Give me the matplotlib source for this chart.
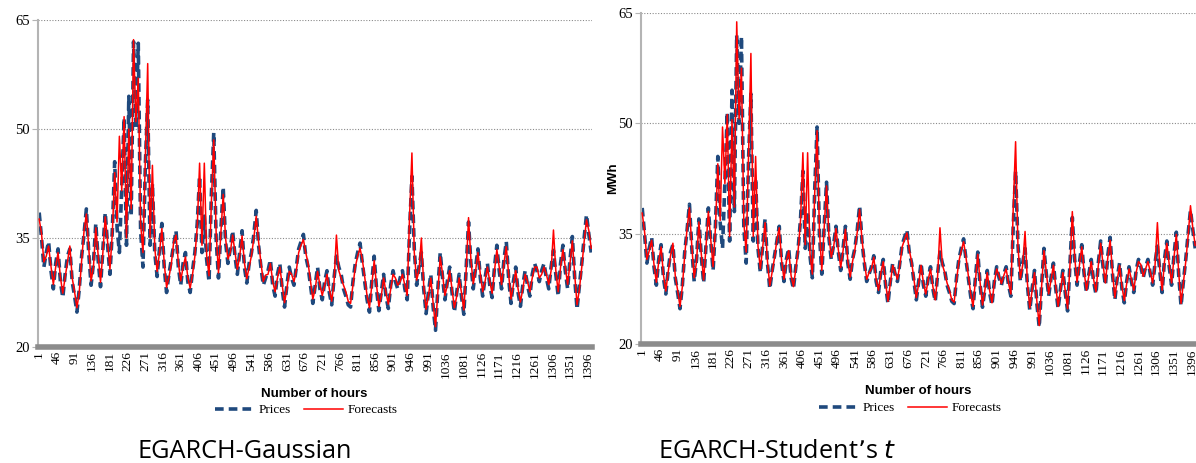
import numpy as np
import matplotlib
matplotlib.use("Agg")
import matplotlib.pyplot as plt
from matplotlib.lines import Line2D

# hourly observations, read every 6 hours off the original figure
hours = np.arange(1, 1406, 6)

prices = [38.5, 35.0, 31.0, 33.0, 34.5, 30.5, 28.0, 31.5, 33.5, 29.0,
          26.8, 30.0, 32.5, 33.5, 29.0, 27.0, 24.8, 28.0, 32.5, 35.5,
          39.0, 33.0, 28.5, 31.5, 37.0, 32.0, 28.3, 33.5, 38.5, 34.0,
          30.0, 36.0, 45.5, 36.5, 33.0, 42.0, 51.5, 34.0, 54.5, 38.0,
          62.0, 50.0, 61.8, 36.0, 31.0, 45.0, 54.0, 34.0, 42.5, 33.0,
          29.7, 33.5, 37.0, 31.0, 27.5, 30.0, 32.0, 34.0, 36.0, 31.0,
          28.5, 31.5, 33.0, 29.0, 27.5, 30.5, 33.0, 37.0, 43.5, 33.0,
          38.0, 32.0, 29.0, 41.0, 49.5, 35.0, 29.5, 36.0, 42.0, 34.5,
          31.5, 33.5, 36.0, 32.5, 30.0, 33.0, 36.0, 31.0, 28.8, 31.5,
          33.0, 35.5, 38.8, 34.0, 31.0, 28.5, 29.5, 30.5, 32.0, 28.5,
          27.0, 30.0, 31.5, 28.0, 25.5, 28.5, 31.0, 29.5, 28.5, 31.0,
          33.5, 34.5, 35.5, 32.5, 31.0, 28.5, 26.0, 28.5, 31.0, 28.0,
          26.5, 29.0, 30.5, 27.5, 25.8, 29.5, 32.5, 31.0, 30.0, 28.0,
          27.0, 25.8, 25.5, 29.0, 31.5, 33.0, 34.3, 31.5, 29.0, 26.5,
          24.8, 29.0, 32.5, 28.0, 25.0, 27.5, 30.0, 27.0, 25.3, 28.5,
          30.5, 29.0, 28.0, 29.5, 30.5, 28.0, 26.5, 36.0, 43.5, 33.5,
          28.5, 31.0, 33.0, 28.0, 24.6, 27.5, 30.0, 25.5, 22.3, 28.0,
          33.0, 29.5, 26.5, 29.0, 31.0, 27.5, 24.8, 27.5, 30.0, 27.0,
          24.5, 31.0, 37.2, 31.5, 28.0, 31.0, 33.5, 29.5, 27.0, 29.5,
          31.5, 28.5, 26.8, 31.0, 34.0, 30.5, 28.0, 32.0, 34.5, 29.5,
          26.0, 29.0, 31.0, 27.5, 25.6, 28.5, 30.5, 28.5, 27.0, 30.0,
          31.5, 30.5, 29.0, 30.5, 31.5, 29.5, 28.0, 31.0, 33.3, 30.0,
          27.0, 31.5, 34.0, 30.5, 28.0, 32.0, 35.2, 29.5, 25.2, 28.5,
          31.5, 35.0, 38.2, 35.5, 33.0]

forecast_gauss = [37.6, 35.6, 31.7, 32.5, 33.9, 31.1, 28.6, 31.0, 33.0, 29.6,
                  27.4, 29.6, 31.9, 33.9, 29.5, 27.6, 25.4, 27.6, 31.9, 35.9,
                  38.3, 33.6, 29.1, 31.0, 36.4, 32.6, 28.9, 33.0, 37.9, 34.5,
                  30.7, 35.6, 44.0, 37.2, 49.0, 41.5, 51.7, 35.0, 50.0, 39.0,
                  62.3, 51.0, 57.0, 37.0, 33.0, 46.0, 59.0, 35.0, 45.0, 33.6,
                  30.4, 33.0, 36.3, 31.6, 28.2, 29.6, 31.4, 34.4, 35.4, 31.6,
                  29.1, 31.0, 32.4, 29.6, 28.1, 30.0, 32.5, 36.5, 45.3, 34.0,
                  45.3, 32.6, 29.8, 40.0, 48.5, 35.8, 30.2, 35.5, 41.0, 35.0,
                  32.1, 33.0, 35.4, 33.0, 30.7, 32.5, 35.3, 31.6, 29.4, 31.0,
                  32.6, 35.0, 38.0, 34.5, 31.6, 29.0, 29.9, 30.0, 31.5, 29.0,
                  27.6, 29.5, 31.0, 28.5, 26.1, 28.0, 30.4, 30.0, 29.0, 30.5,
                  33.0, 34.0, 34.8, 33.0, 31.5, 29.0, 26.6, 28.0, 30.4, 28.5,
                  27.1, 28.5, 30.0, 28.0, 26.3, 29.0, 35.4, 30.5, 29.5, 28.5,
                  27.6, 26.3, 26.0, 28.5, 31.0, 32.5, 33.6, 32.0, 29.6, 27.0,
                  25.4, 28.5, 31.9, 28.5, 25.6, 27.0, 29.5, 27.5, 25.9, 28.0,
                  30.0, 29.5, 28.5, 29.0, 30.0, 28.5, 27.1, 38.0, 46.7, 33.0,
                  29.2, 30.5, 35.0, 28.5, 25.2, 27.0, 29.5, 26.0, 22.8, 27.5,
                  32.4, 30.0, 27.1, 28.5, 30.5, 28.0, 25.4, 27.0, 29.5, 27.5,
                  25.1, 30.5, 37.8, 32.0, 28.7, 30.5, 33.0, 30.0, 27.6, 29.0,
                  31.0, 29.0, 27.4, 30.5, 33.4, 31.0, 28.6, 31.5, 33.8, 30.0,
                  26.6, 28.5, 30.5, 28.0, 26.2, 28.0, 30.0, 29.0, 27.6, 29.5,
                  31.0, 31.0, 29.5, 30.0, 31.0, 30.0, 28.6, 30.5, 36.1, 30.5,
                  27.6, 31.0, 33.4, 31.0, 28.6, 31.5, 34.6, 30.0, 25.8, 28.0,
                  31.0, 34.5, 37.5, 36.0, 33.6]

forecast_student = [37.8, 35.3, 31.5, 32.7, 34.1, 30.8, 28.4, 31.2, 33.2, 29.4,
                    27.2, 29.8, 32.0, 33.7, 29.3, 27.3, 25.1, 27.8, 32.1, 35.7,
                    38.5, 33.3, 29.0, 31.2, 36.6, 32.3, 28.7, 33.2, 38.0, 34.2,
                    30.5, 35.8, 44.5, 36.8, 49.5, 41.8, 51.2, 34.6, 50.5, 38.6,
                    63.8, 50.6, 57.5, 36.6, 32.5, 45.6, 59.5, 34.6, 45.5, 33.3,
                    30.2, 33.2, 36.5, 31.3, 27.9, 29.8, 31.7, 34.2, 35.8, 31.3,
                    28.8, 31.2, 32.7, 29.3, 27.8, 30.2, 32.8, 36.8, 46.0, 33.5,
                    46.0, 32.3, 29.5, 40.5, 49.0, 35.4, 30.0, 35.8, 41.5, 34.8,
                    31.8, 33.2, 35.7, 32.8, 30.4, 32.7, 35.6, 31.3, 29.1, 31.2,
                    32.8, 35.2, 38.3, 34.2, 31.3, 28.8, 29.7, 30.2, 31.8, 28.8,
                    27.3, 29.7, 31.2, 28.3, 25.8, 28.2, 30.7, 29.8, 28.8, 30.7,
                    33.2, 34.2, 35.1, 32.8, 31.2, 28.8, 26.3, 28.2, 30.7, 28.3,
                    26.8, 28.7, 30.2, 27.8, 26.0, 29.2, 35.8, 30.8, 29.7, 28.3,
                    27.3, 26.0, 25.7, 28.7, 31.2, 32.7, 33.9, 31.8, 29.3, 26.8,
                    25.1, 28.7, 32.2, 28.3, 25.3, 27.3, 29.7, 27.3, 25.6, 28.3,
                    30.2, 29.3, 28.2, 29.3, 30.2, 28.3, 26.8, 38.5, 47.5, 33.3,
                    28.9, 30.7, 35.3, 28.3, 24.9, 27.3, 29.7, 25.8, 22.5, 27.8,
                    32.7, 29.8, 26.8, 28.7, 30.7, 27.8, 25.1, 27.3, 29.7, 27.3,
                    24.8, 30.7, 38.0, 31.8, 28.4, 30.7, 33.2, 29.8, 27.3, 29.3,
                    31.2, 28.8, 27.1, 30.7, 33.7, 30.8, 28.3, 31.7, 34.1, 29.8,
                    26.3, 28.7, 30.7, 27.8, 25.9, 28.2, 30.2, 28.8, 27.3, 29.7,
                    31.2, 30.8, 29.2, 30.2, 31.2, 29.8, 28.3, 30.7, 36.5, 30.3,
                    27.3, 31.2, 33.7, 30.8, 28.3, 31.7, 34.9, 29.8, 25.5, 28.3,
                    31.2, 34.7, 38.8, 35.7, 33.4]

x_ticks = list(range(1, 1397, 45))
y_ticks = [20, 35, 50, 65]

NAVY = "#1f497d"
RED = "#ff0000"
SERIF = "Liberation Serif"

W, H = 1196, 463
fig = plt.figure(figsize=(W / 100, H / 100), dpi=100)


def px_box(left, top, right, bottom):
    return [left / W, 1 - bottom / H, (right - left) / W, (bottom - top) / H]


def style_axes(ax, forecast):
    ax.plot(hours, prices, color=NAVY, lw=2.6, dashes=(2.4, 1.4),
            dash_capstyle="butt", zorder=2)
    ax.plot(hours, forecast, color=RED, lw=1.1, zorder=3)
    ax.set_ylim(20, 65)
    ax.set_xlim(-2, 1407)
    ax.set_yticks(y_ticks)
    ax.set_xticks(x_ticks)
    ax.set_xticklabels([str(t) for t in x_ticks], rotation=90,
                       family=SERIF, fontsize=9.5)
    ax.set_yticklabels([str(t) for t in y_ticks], family=SERIF, fontsize=10.5)
    ax.grid(axis="y", color="#8a8a8a", lw=0.8, linestyle=(0, (1, 1.5)))
    ax.set_axisbelow(True)
    for s in ["top", "right"]:
        ax.spines[s].set_visible(False)
    ax.spines["left"].set_color("#b4b4b4")
    ax.spines["left"].set_linewidth(1.5)
    ax.spines["bottom"].set_color("#8c8c8c")
    ax.spines["bottom"].set_linewidth(4)
    ax.tick_params(axis="x", length=0, pad=3)
    ax.tick_params(axis="y", length=4, color="#b4b4b4", pad=2)


def add_labels(cx, y_axis_lbl, y_leg, title_x, title):
    fig.text(cx / W, 1 - y_axis_lbl / H, "Number of hours", ha="center",
             va="center", family="Liberation Sans", weight="bold", fontsize=9.5)
    handles = [Line2D([], [], color=NAVY, lw=2.6, dashes=(2.4, 1.4)),
               Line2D([], [], color=RED, lw=1.1)]
    fig.legend(handles, ["Prices", "Forecasts"], loc="center",
               bbox_to_anchor=((cx - 8) / W, 1 - y_leg / H), ncol=2,
               frameon=False, prop={"family": SERIF, "size": 9.5},
               handlelength=3.0, handletextpad=0.3, columnspacing=1.0)
    fig.text(title_x / W, 1 - 452 / H, title, ha="left", va="center",
             family="Open Sans", fontsize=18.2)


ax1 = fig.add_axes(px_box(38, 20, 592, 347))
style_axes(ax1, forecast_gauss)

ax2 = fig.add_axes(px_box(641, 13, 1196, 344))
style_axes(ax2, forecast_student)

add_labels(314, 394, 410, 137, "EGARCH-Gaussian")
add_labels(918, 391, 408, 658, "EGARCH-Student\u2019s $\\it{t}$")

fig.text(613 / W, 1 - 178 / H, "MWh", rotation=90, ha="center", va="center",
         family="Liberation Sans", weight="bold", fontsize=9.5)

fig.savefig("out.png", dpi=100)
